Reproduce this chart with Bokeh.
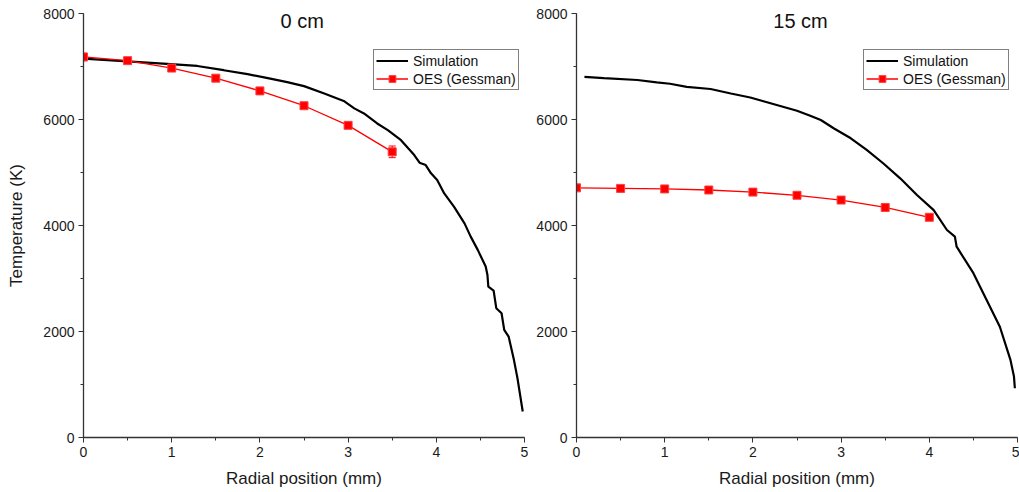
from bokeh.plotting import figure
from bokeh.layouts import row
from bokeh.models import (Range1d, SingleIntervalTicker, Label, Legend, LegendItem,
                          Whisker, ColumnDataSource, TeeHead)
from bokeh.embed import file_html
from bokeh.resources import INLINE

FONT = "Liberation Sans"

# ---------------- data ----------------
titles = ["0 cm", "15 cm"]

sim0_x = [0.00, 0.50, 0.99, 1.29, 1.59, 1.86, 2.09, 2.31, 2.50, 2.73, 2.95, 3.07, 3.18,
          3.33, 3.45, 3.60, 3.75, 3.81, 3.88, 3.94, 4.01, 4.09, 4.20, 4.32, 4.39, 4.47,
          4.56, 4.58, 4.59, 4.65, 4.68, 4.74, 4.77, 4.82, 4.88, 4.92, 4.98]
sim0_t = [7150, 7095, 7045, 7010, 6930, 6855, 6780, 6705, 6630, 6490, 6350, 6210, 6115,
          5925, 5800, 5610, 5330, 5185, 5140, 4985, 4860, 4605, 4355, 4040, 3790, 3540,
          3225, 3065, 2845, 2770, 2440, 2345, 2030, 1905, 1465, 1120, 490]

oes0_x = [0.0, 0.5, 1.0, 1.5, 2.0, 2.5, 3.0, 3.5]
oes0_t = [7180, 7110, 6970, 6780, 6540, 6260, 5890, 5390]
oes0_err = [70, 30, 30, 30, 30, 30, 30, 110]

sim15_x = [0.09, 0.31, 0.69, 0.91, 1.06, 1.25, 1.52, 1.75, 1.97, 2.12, 2.31, 2.50, 2.65,
           2.77, 2.92, 3.11, 3.29, 3.48, 3.67, 3.86, 4.05, 4.20, 4.29, 4.31, 4.50, 4.65,
           4.80, 4.92, 4.96, 4.97]
sim15_t = [6805, 6780, 6745, 6700, 6675, 6615, 6575, 6490, 6415, 6345, 6255, 6165, 6070,
           5990, 5830, 5645, 5425, 5170, 4890, 4575, 4290, 3915, 3790, 3600, 3100, 2595,
           2090, 1465, 1150, 930]

oes15_x = [0.0, 0.5, 1.0, 1.5, 2.0, 2.5, 3.0, 3.5, 4.0]
oes15_t = [4710, 4700, 4690, 4670, 4630, 4570, 4480, 4340, 4155]
oes15_err = [50, 20, 20, 20, 20, 20, 20, 20, 20]

x_label = "Radial position (mm)"
y_label = "Temperature (K)"
legend_labels = ["Simulation", "OES (Gessman)"]


def make_fig(title, title_x, sx, st, ox, ot, oerr, ylabel, ml, mr, leg_x):
    p = figure(frame_width=441, frame_height=424, output_backend="svg",
               toolbar_location=None,
               x_range=Range1d(0, 5), y_range=Range1d(0, 8000),
               min_border_left=ml, min_border_right=mr,
               min_border_top=13, min_border_bottom=54)
    p.outline_line_color = None
    p.grid.visible = False
    p.background_fill_color = "white"
    p.border_fill_color = "white"

    p.xaxis.ticker = SingleIntervalTicker(interval=1, num_minor_ticks=2)
    p.yaxis.ticker = SingleIntervalTicker(interval=2000, num_minor_ticks=2)
    for ax in (p.xaxis, p.yaxis):
        ax.axis_line_color = "#333333"
        ax.axis_line_width = 1.3
        ax.major_tick_line_color = "#333333"
        ax.minor_tick_line_color = "#333333"
        ax.major_tick_in = 0
        ax.major_tick_out = 5
        ax.minor_tick_in = 0
        ax.minor_tick_out = 3
        ax.major_label_text_font = FONT
        ax.major_label_text_font_size = "14px"
        ax.major_label_text_color = "#1a1a1a"
        ax.major_label_standoff = 4
        ax.axis_label_text_font = FONT
        ax.axis_label_text_font_size = "17px"
        ax.axis_label_text_font_style = "normal"
        ax.axis_label_text_color = "#1a1a1a"
    p.xaxis.axis_label = x_label
    p.xaxis.axis_label_standoff = 9
    if ylabel:
        p.yaxis.axis_label = ylabel
        p.yaxis.axis_label_standoff = 14

    l1 = p.line(sx, st, line_color="black", line_width=2.2)

    src = ColumnDataSource(dict(x=ox, t=ot,
                                up=[a + b for a, b in zip(ot, oerr)],
                                lo=[a - b for a, b in zip(ot, oerr)]))
    w = Whisker(base="x", upper="up", lower="lo", source=src,
                line_color="red", line_width=1,
                upper_head=TeeHead(size=7, line_color="red", line_width=1),
                lower_head=TeeHead(size=7, line_color="red", line_width=1))
    p.add_layout(w)
    l2 = p.line("x", "t", source=src, line_color="red", line_width=1.3)
    s2 = p.scatter("x", "t", source=src, marker="square", size=8,
                   fill_color="red", line_color="#ff4040", line_width=1)

    p.add_layout(Label(x=title_x, y=7855, text=title, text_align="center",
                       text_baseline="middle", text_font=FONT, text_font_size="20px",
                       text_color="#111111"))

    leg = Legend(items=[LegendItem(label=legend_labels[0], renderers=[l1]),
                        LegendItem(label=legend_labels[1], renderers=[l2, s2])],
                 location=(leg_x, 347), margin=0, padding=2, spacing=1,
                 glyph_width=32, glyph_height=17, label_height=17, label_standoff=5,
                 label_text_font=FONT, label_text_font_size="14px",
                 label_text_color="#111111",
                 border_line_color="black", border_line_width=1,
                 background_fill_color="white", background_fill_alpha=1)
    p.add_layout(leg, "center")
    return p


p1 = make_fig(titles[0], 2.48, sim0_x, sim0_t, oes0_x, oes0_t, oes0_err, y_label,
              ml=83, mr=4, leg_x=290)
p2 = make_fig(titles[1], 2.54, sim15_x, sim15_t, oes15_x, oes15_t, oes15_err, None,
              ml=48, mr=2, leg_x=287)

layout = row(p1, p2)
open("out.html", "w").write(file_html(layout, INLINE))
